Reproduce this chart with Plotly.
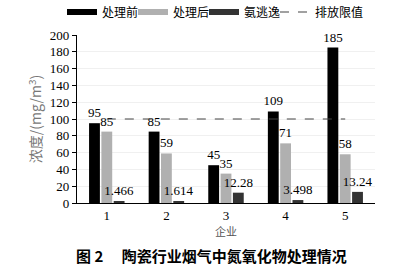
import plotly.graph_objects as go

categories = ["1", "2", "3", "4", "5"]
before = [95, 85, 45, 109, 185]
after = [85, 59, 35, 71, 58]
ammonia = [1.466, 1.614, 12.28, 3.498, 13.24]
ammonia_labels = ["1.466", "1.614", "12.28", "3.498", "13.24"]
limit = [100, 100, 100, 100, 100]
series_names = ["处理前", "处理后", "氨逃逸", "排放限值"]
yticks = [0, 20, 40, 60, 80, 100, 120, 140, 160, 180, 200]

serif = "Liberation Serif, Times New Roman, serif"
cjk = "Noto Sans CJK SC, sans-serif"

fig = go.Figure()
colors = ["#000000", "#b0b0b0", "#333333"]
legend_ids = ["legend", "legend2", "legend3", "legend4"]
vals = [before, after, ammonia]
texts = [[str(v) for v in before], [str(v) for v in after], ammonia_labels]
for name, v, t, c, lid in zip(series_names[:3], vals, texts, colors, legend_ids):
    fig.add_trace(go.Bar(
        x=categories, y=v, name=name, marker=dict(color=c, line=dict(width=0)),
        text=t, textposition="outside", constraintext="none", cliponaxis=False,
        textfont=dict(family=serif, size=13, color="#000"), showlegend=False,
    ))
    fig.add_trace(go.Scatter(
        x=[None], y=[None], mode="lines", name=name, legend=lid,
        line=dict(color=c, width=6), showlegend=True,
    ))

fig.add_trace(go.Scatter(
    x=categories, y=limit, mode="lines", name=series_names[3], legend=legend_ids[3],
    line=dict(color="#444444", width=1.2, dash="dash"),
))

legend_common = dict(orientation="h", xref="container", yref="container",
                     xanchor="left", yanchor="middle", y=1 - 12 / 267,
                     font=dict(family=cjk, size=12, color="#000"),
                     itemwidth=30, tracegroupgap=0, bgcolor="rgba(0,0,0,0)")
legend_x = [62, 133, 204, 275]

fig.update_layout(
    width=403, height=267,
    margin=dict(l=77, r=28, t=35, b=64, autoexpand=False),
    paper_bgcolor="white", plot_bgcolor="white",
    barmode="group", bargap=0.38, bargroupgap=0.12,
    showlegend=True,
    font=dict(family=serif, size=13, color="#000"),
    **{lid: dict(legend_common, x=lx / 403) for lid, lx in zip(legend_ids, legend_x)},
)
fig.update_xaxes(
    type="category", showline=True, linecolor="#000", linewidth=1.2,
    ticks="", tickfont=dict(family=serif, size=13),
    title=dict(text="企业", font=dict(family=cjk, size=11, color="#555"), standoff=0),
    showgrid=False, zeroline=False,
)
fig.update_yaxes(
    range=[0, 200], tickvals=yticks, showline=True, linecolor="#000", linewidth=1.2,
    ticks="outside", ticklen=4, tickcolor="#000", tickfont=dict(family=serif, size=13),
    showgrid=True, gridcolor="#f0f0f0", gridwidth=1, zeroline=False,
    title=dict(text="浓度/(mg/m<sup>3</sup>)", font=dict(family=cjk, size=14, color="#777"), standoff=4),
)
fig.add_annotation(
    text="<b>图 2　 陶瓷行业烟气中氮氧化物处理情况</b>", xref="paper", yref="paper",
    x=0.45, y=-0.24, xanchor="center", yanchor="top", showarrow=False,
    font=dict(family=cjk, size=15, color="#000"),
)
fig.write_html("out.html")
